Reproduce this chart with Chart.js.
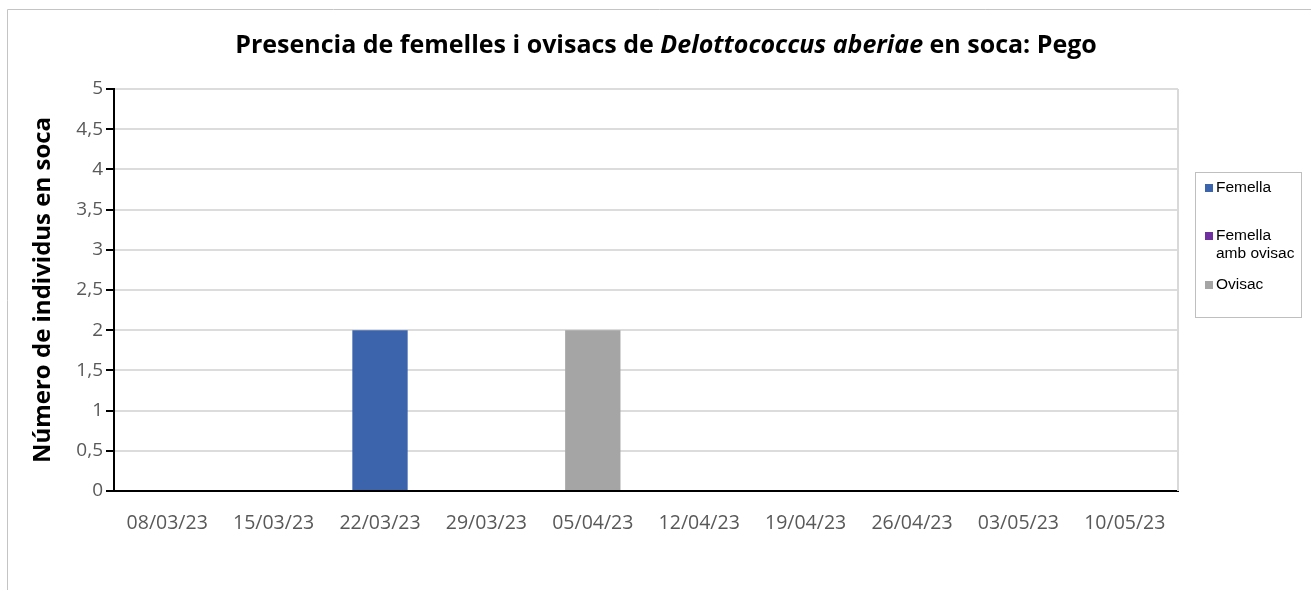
<!DOCTYPE html>
<html>
<head>
<meta charset="utf-8">
<script src="https://cdn.jsdelivr.net/npm/chart.js@4"></script>
<style>
  html, body { margin: 0; padding: 0; background: #fff; }
  #wrap { position: relative; width: 1311px; height: 590px; overflow: hidden; }
</style>
</head>
<body>
<div id="wrap"><canvas id="canvas" width="1311" height="590"></canvas></div>
<script>
var dates = ['08/03/23', '15/03/23', '22/03/23', '29/03/23', '05/04/23', '12/04/23', '19/04/23', '26/04/23', '03/05/23', '10/05/23'];
var femella = [0, 0, 2, 0, 0, 0, 0, 0, 0, 0];
var femellaOvisac = [0, 0, 0, 0, 0, 0, 0, 0, 0, 0];
var ovisac = [0, 0, 0, 0, 2, 0, 0, 0, 0, 0];
var seriesNames = ['Femella', 'Femella amb ovisac', 'Ovisac'];
var seriesColors = ['#3c64ad', '#7030a0', '#a5a5a5'];
var titleParts = [
    { text: 'Presencia de femelles i ovisacs de ', italic: false },
    { text: 'Delottococcus aberiae', italic: true },
    { text: ' en soca: Pego', italic: false }
];

var FONT = '"Open Sans", sans-serif';

// frame, title, plot border and the boxed legend
var decor = {
    id: 'decor',
    beforeDraw: function (chart) {
        var c = chart.ctx;
        c.save();
        c.strokeStyle = '#c4c4c4';
        c.lineWidth = 1;
        c.beginPath();
        c.moveTo(7.5, 600);
        c.lineTo(7.5, 9.5);
        c.lineTo(1400, 9.5);
        c.stroke();
        c.restore();
    },
    afterDraw: function (chart) {
        var c = chart.ctx;
        var area = chart.chartArea;
        c.save();

        // right edge of plot area
        c.strokeStyle = '#d9d9d9';
        c.lineWidth = 2;
        c.beginPath();
        c.moveTo(area.right, area.top);
        c.lineTo(area.right, area.bottom);
        c.stroke();

        // title with italic species name
        var total = 0;
        titleParts.forEach(function (p) {
            c.font = (p.italic ? 'italic ' : '') + 'bold 25px ' + FONT;
            p.w = c.measureText(p.text).width;
            total += p.w;
        });
        var x = 666 - total / 2;
        c.fillStyle = '#000';
        c.textBaseline = 'alphabetic';
        c.textAlign = 'left';
        titleParts.forEach(function (p) {
            c.font = (p.italic ? 'italic ' : '') + 'bold 25px ' + FONT;
            c.fillText(p.text, x, 53);
            x += p.w;
        });

        // legend box
        var lx = area.right + 17, ly = 172, lw = 106, lh = 145;
        c.strokeStyle = '#bfbfbf';
        c.lineWidth = 1;
        c.strokeRect(lx + 0.5, ly + 0.5, lw, lh);
        var rows = [[188], [236, 254], [285]];
        var lines = [['Femella'], ['Femella', 'amb ovisac'], ['Ovisac']];
        c.font = '15.5px "Liberation Sans", Arial, sans-serif';
        c.textBaseline = 'middle';
        chart.data.datasets.forEach(function (ds, i) {
            c.fillStyle = ds.backgroundColor;
            c.fillRect(lx + 10, rows[i][0] - 4, 8, 8);
            c.fillStyle = '#000';
            lines[i].forEach(function (t, j) {
                c.fillText(t, lx + 21, rows[i][j]);
            });
        });
        c.restore();
    }
};

window.onload = function () {
    var ctx = document.getElementById('canvas').getContext('2d');
    new Chart(ctx, {
        type: 'bar',
        data: {
            labels: dates,
            datasets: [
                { label: seriesNames[0], data: femella, backgroundColor: seriesColors[0] },
                { label: seriesNames[1], data: femellaOvisac, backgroundColor: seriesColors[1] },
                { label: seriesNames[2], data: ovisac, backgroundColor: seriesColors[2] }
            ]
        },
        options: {
            responsive: false,
            animation: false,
            layout: { padding: { left: 29, right: 133, top: 89, bottom: 0 } },
            datasets: { bar: { barPercentage: 0.52, categoryPercentage: 1 } },
            plugins: {
                legend: { display: false },
                title: { display: false },
                tooltip: { enabled: false }
            },
            scales: {
                x: {
                    stacked: true,
                    grid: { display: false },
                    border: { color: '#000', width: 2 },
                    ticks: { font: { family: FONT, size: 19.5 }, color: '#595959', padding: 13, maxRotation: 0 },
                    afterFit: function (scale) { scale.height = 99; }
                },
                y: {
                    stacked: true,
                    min: 0,
                    max: 5,
                    grid: { color: '#dcdcdc', lineWidth: 2, tickColor: '#000', tickLength: 8, tickWidth: 2 },
                    border: { color: '#000', width: 2 },
                    ticks: {
                        stepSize: 0.5,
                        font: { family: FONT, size: 19 },
                        color: '#595959',
                        padding: 3,
                        callback: function (v) { return String(v).replace('.', ','); }
                    },
                    title: {
                        display: true,
                        text: 'Número de individus en soca',
                        font: { family: FONT, size: 24, weight: 'bold' },
                        color: '#000',
                        padding: 0
                    },
                    afterFit: function (scale) { scale.width = 85; }
                }
            }
        },
        plugins: [decor]
    });
};
</script>
</body>
</html>
